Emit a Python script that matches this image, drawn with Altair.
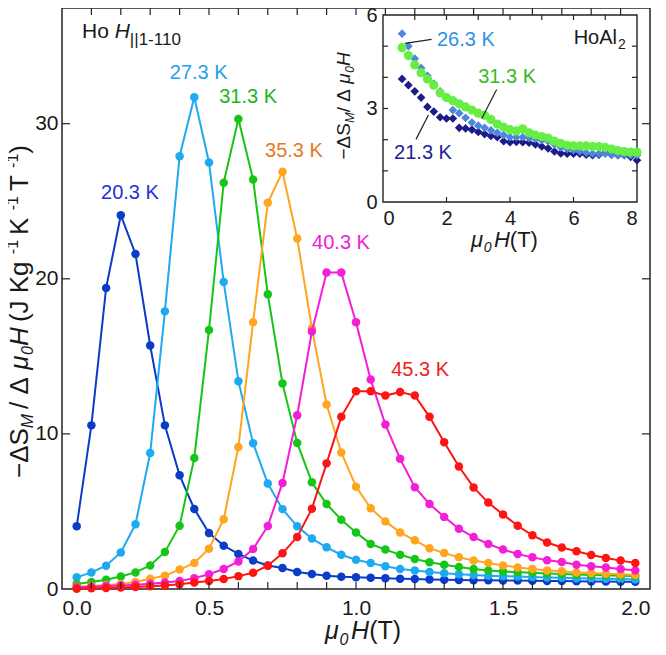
import altair as alt
import pandas as pd

# ---------------- data ----------------
H = [0.05, 0.10, 0.15, 0.20, 0.25, 0.30, 0.35, 0.40, 0.45, 0.50,
     0.55, 0.60, 0.65, 0.70, 0.75, 0.80, 0.85, 0.90, 0.95, 1.00,
     1.05, 1.10, 1.15, 1.20, 1.25, 1.30, 1.35, 1.40, 1.45, 1.50,
     1.55, 1.60, 1.65, 1.70, 1.75, 1.80, 1.85, 1.90, 1.95]

S20 = [4.04, 10.55, 19.4, 24.1, 21.6, 15.7, 10.55, 7.33, 5.16, 3.61,
       2.79, 2.26, 1.83, 1.52, 1.35, 1.10, 0.97, 0.86, 0.79, 0.75,
       0.72, 0.69, 0.66, 0.64, 0.62, 0.60, 0.58, 0.57, 0.56, 0.55,
       0.54, 0.53, 0.52, 0.51, 0.50, 0.49, 0.48, 0.47, 0.46]
S27 = [0.75, 1.07, 1.5, 2.36, 4.17, 8.77, 17.9, 27.9, 31.7, 27.5,
       19.8, 13.4, 9.4, 6.8, 5.15, 4.04, 3.25, 2.69, 2.21, 1.89,
       1.68, 1.46, 1.29, 1.2, 1.1, 1.02, 0.95, 0.9, 0.86, 0.83,
       0.8, 0.77, 0.74, 0.72, 0.7, 0.68, 0.66, 0.64, 0.62]
S31 = [0.32, 0.45, 0.6, 0.81, 1.07, 1.52, 2.39, 4.08, 8.45, 16.7,
       26.2, 30.3, 26.4, 19.0, 13.25, 9.42, 6.88, 5.48, 4.47, 3.65,
       2.9, 2.54, 2.21, 1.94, 1.72, 1.57, 1.42, 1.29, 1.2, 1.13,
       1.08, 1.04, 1.0, 0.97, 0.94, 0.91, 0.89, 0.86, 0.84]
S35 = [0.15, 0.2, 0.25, 0.33, 0.45, 0.66, 0.86, 1.25, 1.68, 2.6,
       4.5, 9.16, 17.2, 24.9, 26.9, 22.6, 16.8, 11.9, 8.8, 6.6,
       5.2, 4.36, 3.65, 3.14, 2.62, 2.32, 2.04, 1.84, 1.68, 1.52,
       1.39, 1.29, 1.2, 1.14, 1.07, 1.03, 0.99, 0.95, 0.9]
S40 = [0.12, 0.15, 0.19, 0.23, 0.28, 0.34, 0.42, 0.52, 0.7, 0.95,
       1.29, 1.78, 2.58, 4.06, 6.84, 11.2, 16.6, 20.4, 20.4, 17.2,
       13.5, 10.6, 8.4, 6.56, 5.48, 4.65, 3.89, 3.35, 2.9, 2.54,
       2.26, 2.04, 1.85, 1.74, 1.57, 1.46, 1.39, 1.29, 1.2]
S45 = [0.02, 0.05, 0.07, 0.1, 0.13, 0.17, 0.23, 0.31, 0.42, 0.52,
       0.65, 0.83, 1.05, 1.5, 2.3, 3.35, 5.18, 8.1, 11.1, 12.75,
       12.75, 12.47, 12.7, 12.47, 11.1, 9.46, 7.9, 6.55, 5.57, 4.8,
       4.08, 3.46, 3.0, 2.68, 2.43, 2.19, 2.0, 1.83, 1.68]

SERIES = [S20, S27, S31, S35, S40, S45]
LABELS = ["20.3 K", "27.3 K", "31.3 K", "35.3 K", "40.3 K", "45.3 K"]
COLORS = ["#0b3cc8", "#1eaaf0", "#16c616", "#ffa51e", "#f41ed6", "#ff1414"]
LABEL_COLORS = ["#2b2bd9", "#27a0ec", "#1db41d", "#e8781e", "#f020d8", "#f02020"]
LABEL_X = [0.231, 0.465, 0.633, 0.789, 0.949, 1.218]
LABEL_Y = [25.55, 33.3, 31.7, 28.26, 22.3, 14.14]

X_TICK_LABELS = [0.0, 0.5, 1.0, 1.5, 2.0]
Y_TICK_LABELS = [0, 10, 20, 30]
X_MINOR = [0.1, 0.2, 0.3, 0.4, 0.5, 0.6, 0.7, 0.8, 0.9, 1.0,
           1.1, 1.2, 1.3, 1.4, 1.5, 1.6, 1.7, 1.8, 1.9]
Y_MINOR = [10, 20, 30]

# inset (HoAl2)
IH = [0.6, 0.8, 1.0, 1.2, 1.4, 1.6, 1.8, 2.0, 2.2, 2.4,
      2.6, 2.8, 3.0, 3.2, 3.4, 3.6, 3.8, 4.0, 4.2, 4.4,
      4.6, 4.8, 5.0, 5.2, 5.4, 5.6, 5.8, 6.0, 6.2, 6.4,
      6.6, 6.8, 7.0, 7.2, 7.4, 7.6, 7.8, 8.0]
I21 = [3.95, 3.75, 3.55, 3.35, 3.05, 2.9, 2.72, 2.68, 2.68, 2.38,
       2.36, 2.32, 2.25, 2.18, 2.12, 2.08, 1.95, 1.92, 1.93, 1.92,
       1.9, 1.85, 1.78, 1.72, 1.62, 1.56, 1.55, 1.55, 1.55, 1.52,
       1.5, 1.52, 1.58, 1.52, 1.5, 1.5, 1.45, 1.34]
I26 = [5.4, 5.0, 4.6, 4.3, 4.05, 3.8, 3.55, 3.35, 2.95, 2.85,
       2.7, 2.55, 2.45, 2.38, 2.3, 2.22, 2.15, 2.08, 2.08, 2.08,
       2.05, 2.02, 1.98, 1.95, 1.85, 1.75, 1.7, 1.66, 1.62, 1.58,
       1.55, 1.55, 1.55, 1.52, 1.5, 1.5, 1.5, 1.5]
I31 = [4.95, 4.7, 4.4, 4.15, 3.95, 3.75, 3.5, 3.35, 3.25, 3.15,
       3.05, 2.95, 2.85, 2.78, 2.65, 2.5, 2.4, 2.32, 2.28, 2.35,
       2.22, 2.15, 2.1, 2.05, 1.95, 1.88, 1.82, 1.8, 1.8, 1.8,
       1.78, 1.78, 1.75, 1.7, 1.65, 1.62, 1.6, 1.6]
INSET_SERIES = [I21, I26, I31]
INSET_COLORS = ["#1c1c86", "#4f86dc", "#66ee44"]
INSET_SHAPES = ["diamond", "diamond", "circle"]
INSET_SIZES = [75, 75, 85]
INSET_LABELS = ["21.3 K", "26.3 K", "31.3 K"]
INSET_LABEL_COLORS = ["#222299", "#2f90e8", "#33bb22"]
INSET_LABEL_X = [1.26, 2.61, 3.91]
INSET_LABEL_Y = [1.57, 5.19, 4.0]
LEAD_X1 = [1.04, 0.69, 3.58]
LEAD_Y1 = [2.01, 5.09, 3.61]
LEAD_X2 = [1.43, 1.53, 3.11]
LEAD_Y2 = [2.79, 5.22, 2.68]
INSET_X_LABELS = [0, 2, 4, 6, 8]
INSET_Y_LABELS = [0, 3, 6]
INSET_X_BOTTOM = [2, 4, 6]
INSET_X_TOP = [1, 2, 3, 4, 5, 6, 7]
INSET_Y_TICKS = [1, 2, 3, 4, 5]

# ---------------- layout ----------------
FONT = "Liberation Sans, Arial, Helvetica, sans-serif"
INK = "#1a1a1a"
W, HT = 588, 581
XS = alt.Scale(domain=[0, 2], range=[0, W], nice=False, zero=False)
YS = alt.Scale(domain=[0, 37.46], range=[HT, 0], nice=False, zero=False)
IXS = alt.Scale(domain=[0, 8], range=[321, 575], nice=False, zero=False)
IYS = alt.Scale(domain=[0, 6], range=[194, 7], nice=False, zero=False)
ONE = alt.Data(values=[{"a": 1}])
NB = "\u00a0"

# Arial / Liberation Sans advance widths (per 1000 em)
AW = {' ': 278, NB: 278, '(': 333, ')': 333, '-': 333, '\u2212': 584, '.': 278, '/': 278,
      '|': 260, 'A': 667, 'H': 722, 'J': 500, 'K': 667, 'M': 833, 'S': 667,
      'T': 611, 'g': 556, 'l': 222, 'o': 556, '\u0394': 667, '\u03bc': 576}


def tw(s, size):
    return sum(AW.get(c, 556) for c in s) * size / 1000.0


def seg_mark(t, size, italic, color=INK, angle=0):
    return alt.Chart(ONE).mark_text(
        text=t.replace(" ", NB), fontSize=size, fontStyle="italic" if italic else "normal",
        align="left", baseline="alphabetic", font=FONT, color=color, angle=angle)


def htext(segs, x0, base, color=INK):
    out = []
    x = x0
    for t, s, it, sh in segs:
        out.append(seg_mark(t, s, it, color).encode(x=alt.value(x), y=alt.value(base + sh)))
        x += tw(t, s)
    return out


def vtext(segs, xb, yc, span):
    # extra length (to match the reference span) goes into the word gaps
    total = sum(tw(t, s) for t, s, it, sh in segs)
    gaps = sum(1 for t, s, it, sh in segs if t.startswith(" "))
    extra = max(0.0, span - total) / gaps if gaps else 0.0
    y = yc + span / 2.0
    out = []
    for t, s, it, sh in segs:
        if t.startswith(" "):
            y -= extra
        out.append(seg_mark(t, s, it, angle=270).encode(x=alt.value(xb + sh), y=alt.value(y)))
        y -= tw(t, s)
    return out


layers = []

# ---------------- main series ----------------
for i, (vals, col) in enumerate(zip(SERIES, COLORS)):
    df = pd.DataFrame({"h": H, "v": vals})
    if i == 0:
        xax = alt.Axis(values=X_TICK_LABELS, format=".1f", orient="bottom", ticks=False,
                       tickSize=0, domain=False, grid=False, labelFontSize=21,
                       labelPadding=8, labelFont=FONT, labelColor=INK, title=None)
        yax = alt.Axis(values=Y_TICK_LABELS, format="d", orient="left", ticks=False,
                       tickSize=0, domain=False, grid=False, labelFontSize=21,
                       labelPadding=4, labelFont=FONT, labelColor=INK, title=None)
    else:
        xax = None
        yax = None
    base = alt.Chart(df)
    layers.append(base.mark_line(color=col, strokeWidth=2).encode(
        x=alt.X("h:Q", scale=XS, axis=xax), y=alt.Y("v:Q", scale=YS, axis=yax)))
    layers.append(base.mark_circle(color=col, size=72, opacity=1).encode(
        x=alt.X("h:Q", scale=XS, axis=None), y=alt.Y("v:Q", scale=YS, axis=None)))

# series labels
lab_df = pd.DataFrame({"x": LABEL_X, "y": LABEL_Y, "t": LABELS, "c": LABEL_COLORS})
layers.append(alt.Chart(lab_df).mark_text(fontSize=20, font=FONT, align="center",
                                          baseline="middle").encode(
    x=alt.X("x:Q", scale=XS, axis=None), y=alt.Y("y:Q", scale=YS, axis=None),
    text="t:N", color=alt.Color("c:N", scale=None)))

# inward ticks of main frame
xt = pd.DataFrame({"v": X_MINOR})
yt = pd.DataFrame({"v": Y_MINOR})
RC = dict(color="#222", strokeWidth=1.2)
layers.append(alt.Chart(xt).mark_rule(**RC).encode(
    x=alt.X("v:Q", scale=XS, axis=None), y=alt.value(HT), y2=alt.value(HT - 7)))
layers.append(alt.Chart(xt).mark_rule(**RC).encode(
    x=alt.X("v:Q", scale=XS, axis=None), y=alt.value(0), y2=alt.value(7)))
layers.append(alt.Chart(yt).mark_rule(**RC).encode(
    y=alt.Y("v:Q", scale=YS, axis=None), x=alt.value(0), x2=alt.value(8)))
layers.append(alt.Chart(yt).mark_rule(**RC).encode(
    y=alt.Y("v:Q", scale=YS, axis=None), x=alt.value(W), x2=alt.value(W - 8)))

# ---------------- inset ----------------
frame = pd.DataFrame({"x0": [0], "x1": [8], "y0": [0], "y1": [6]})
ixax = alt.Axis(values=INSET_X_LABELS, format="d", orient="bottom", offset=-(HT - 194),
                ticks=False, tickSize=0, domain=False, grid=False, labelFontSize=20,
                labelPadding=6, labelFont=FONT, labelColor=INK, title=None, zindex=1)
iyax = alt.Axis(values=INSET_Y_LABELS, format="d", orient="left", offset=-321,
                ticks=False, tickSize=0, domain=False, grid=False, labelFontSize=20,
                labelPadding=6, labelFont=FONT, labelColor=INK, title=None, zindex=1)
layers.append(alt.Chart(frame).mark_rect(fill="white", stroke="#222", strokeWidth=1.4).encode(
    x=alt.X("x0:Q", scale=IXS, axis=ixax), x2="x1:Q",
    y=alt.Y("y0:Q", scale=IYS, axis=iyax), y2="y1:Q"))

ixb = pd.DataFrame({"v": INSET_X_BOTTOM})
ixt = pd.DataFrame({"v": INSET_X_TOP})
iyt = pd.DataFrame({"v": INSET_Y_TICKS})
layers.append(alt.Chart(ixb).mark_rule(**RC).encode(
    x=alt.X("v:Q", scale=IXS, axis=None), y=alt.value(194), y2=alt.value(189)))
layers.append(alt.Chart(ixt).mark_rule(**RC).encode(
    x=alt.X("v:Q", scale=IXS, axis=None), y=alt.value(7), y2=alt.value(12)))
layers.append(alt.Chart(iyt).mark_rule(**RC).encode(
    y=alt.Y("v:Q", scale=IYS, axis=None), x=alt.value(321), x2=alt.value(326)))
layers.append(alt.Chart(iyt).mark_rule(**RC).encode(
    y=alt.Y("v:Q", scale=IYS, axis=None), x=alt.value(575), x2=alt.value(570)))

for vals, col, shp, sz in zip(INSET_SERIES, INSET_COLORS, INSET_SHAPES, INSET_SIZES):
    df = pd.DataFrame({"h": IH, "v": vals})
    layers.append(alt.Chart(df).mark_point(shape=shp, filled=True, color=col, size=sz,
                                           opacity=1).encode(
        x=alt.X("h:Q", scale=IXS, axis=None), y=alt.Y("v:Q", scale=IYS, axis=None)))

lead = pd.DataFrame({"x1": LEAD_X1, "y1": LEAD_Y1, "x2": LEAD_X2, "y2": LEAD_Y2})
layers.append(alt.Chart(lead).mark_rule(color="#222", strokeWidth=1.2).encode(
    x=alt.X("x1:Q", scale=IXS, axis=None), y=alt.Y("y1:Q", scale=IYS, axis=None),
    x2="x2:Q", y2="y2:Q"))

ilab = pd.DataFrame({"x": INSET_LABEL_X, "y": INSET_LABEL_Y, "t": INSET_LABELS,
                     "c": INSET_LABEL_COLORS})
layers.append(alt.Chart(ilab).mark_text(fontSize=20, font=FONT, align="center",
                                        baseline="middle").encode(
    x=alt.X("x:Q", scale=IXS, axis=None), y=alt.Y("y:Q", scale=IYS, axis=None),
    text="t:N", color=alt.Color("c:N", scale=None)))

hoal = pd.DataFrame({"x": [7.37], "y": [5.26]})
layers.append(alt.Chart(hoal).mark_text(text="HoAl", fontSize=20, font=FONT, align="right",
                                        baseline="middle", color=INK).encode(
    x=alt.X("x:Q", scale=IXS, axis=None), y=alt.Y("y:Q", scale=IYS, axis=None)))
layers.append(alt.Chart(hoal).mark_text(text="2", fontSize=14, font=FONT, align="left",
                                        baseline="middle", color=INK, dx=1, dy=7).encode(
    x=alt.X("x:Q", scale=IXS, axis=None), y=alt.Y("y:Q", scale=IYS, axis=None)))

# ---------------- rich-text titles ----------------
M = "\u2212\u0394S"
layers += htext([("Ho ", 21, False, 0), ("H", 21, True, 0), ("||1-110", 17, False, 7)], 20, 30)
layers += htext([("\u03bc", 25, True, 0), ("0", 16, True, 6), (" ", 10, False, 0),
                 ("H", 25, True, 0), ("  (T)", 25, False, 0)], 263, 631)
layers += htext([("\u03bc", 22, True, 0), ("0", 14, True, 5), (" ", 9, False, 0),
                 ("H", 22, True, 0), ("  (T)", 22, False, 0)], 409, 239)
layers += vtext([(M, 26, False, 0), ("M", 17, True, 5), (" / \u0394", 26, False, 0),
                 ("\u03bc", 26, True, 0), ("0", 16, True, 5), ("H", 26, True, 0),
                 (" (J Kg", 26, False, 0), ("-1", 16, False, -10), (" K", 26, False, 0),
                 ("-1", 16, False, -10), (" T", 26, False, 0), ("-1", 16, False, -10),
                 (")", 26, False, 0)], -34, 303.5, 333)
layers += vtext([(M, 19, False, 0), ("M", 13, True, 4), (" / \u0394", 19, False, 0),
                 ("\u03bc", 19, True, 0), ("0", 12, True, 4), ("H", 19, True, 0)],
                288, 100, 103)

chart = alt.layer(*layers).resolve_scale(x="independent", y="independent").properties(
    width=W, height=HT, autosize=alt.AutoSizeParams(type="none"),
    padding={"left": 54, "top": 0, "right": 8, "bottom": 58},
    background="white",
).configure_view(stroke="#222", strokeWidth=1.5)

chart.save("out.html", embed_options={"renderer": "svg", "actions": False})
